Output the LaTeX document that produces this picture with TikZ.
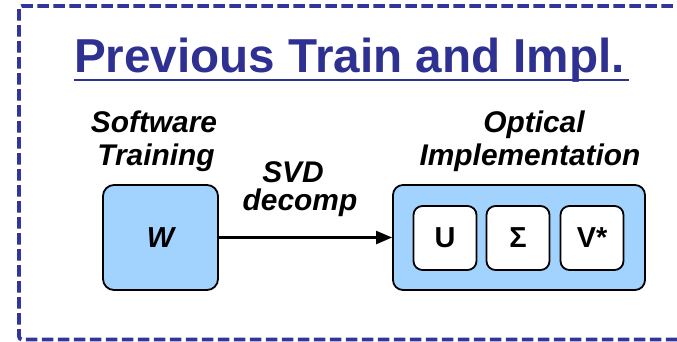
\documentclass[tikz,border=0pt]{standalone}
\usepackage{fontspec}
\setmainfont{Liberation Sans}
\usetikzlibrary{arrows.meta}
\definecolor{frameblue}{HTML}{34359A}
\definecolor{titleblue}{HTML}{2E3192}
\definecolor{boxblue}{HTML}{A2D3FE}
\tikzset{
  label text/.style={inner sep=0pt, anchor=base, font=\fontsize{30}{32}\selectfont\bfseries\itshape},
  bluebox/.style={draw=black, line width=1.8bp, fill=boxblue, rounded corners=11bp},
  factorbox/.style={draw=black, line width=1.8bp, fill=white, rounded corners=9bp,
    minimum width=63bp, minimum height=64bp, inner sep=0pt,
    font=\fontsize{29}{30}\selectfont\bfseries},
  link/.style={line width=2.2bp, -{Triangle[length=16bp,width=13bp]}},
}
\begin{document}
\begin{tikzpicture}[x=1bp, y=-1bp]
  \clip (0,0) rectangle (677,341);
  \fill[white] (0,0) rectangle (677,341);

  % dashed frame (runs past the right edge)
  \draw[frameblue, line width=3.8bp, dash pattern=on 11.5bp off 4.5bp, rounded corners=3bp]
    (19,6) rectangle (720,339.5);

  % heading
  \node[inner sep=0pt, anchor=base west, text=titleblue,
        font=\fontsize{47.8}{50}\selectfont\bfseries] (title) at (74,72)
        {Previous Train and Impl.};
  \draw[titleblue, line width=2.4bp]
    ([yshift=-8bp]title.base west) -- ([yshift=-8bp,xshift=4bp]title.base east);

  % captions
  \node[label text] (sw1) at (154,132) {Software};
  \node[label text] (sw2) at (156,165) {Training};
  \node[label text] (svd1) at (293,182) {SVD};
  \node[label text] (svd2) at (300,210) {decomp};
  \node[label text] (op1) at (534,132) {Optical};
  \node[label text] (op2) at (530,165) {Implementation};

  % software weight block
  \node[bluebox, minimum width=115bp, minimum height=105bp, inner sep=0pt,
        font=\fontsize{29}{30}\selectfont\bfseries\itshape] (w) at (160.5,237.5) {W};

  % optical block with its three factors
  \node[bluebox, minimum width=252bp, minimum height=105bp, inner sep=0pt,
        rounded corners=10bp] (opt) at (519,237.5) {};
  \node[factorbox] (u) at (445,238) {U};
  \node[factorbox] (s) at (518,238) {Σ};
  \node[factorbox] (v) at (592,238) {V*};

  \draw[link] (w.east) -- (opt.west);
\end{tikzpicture}
\end{document}
